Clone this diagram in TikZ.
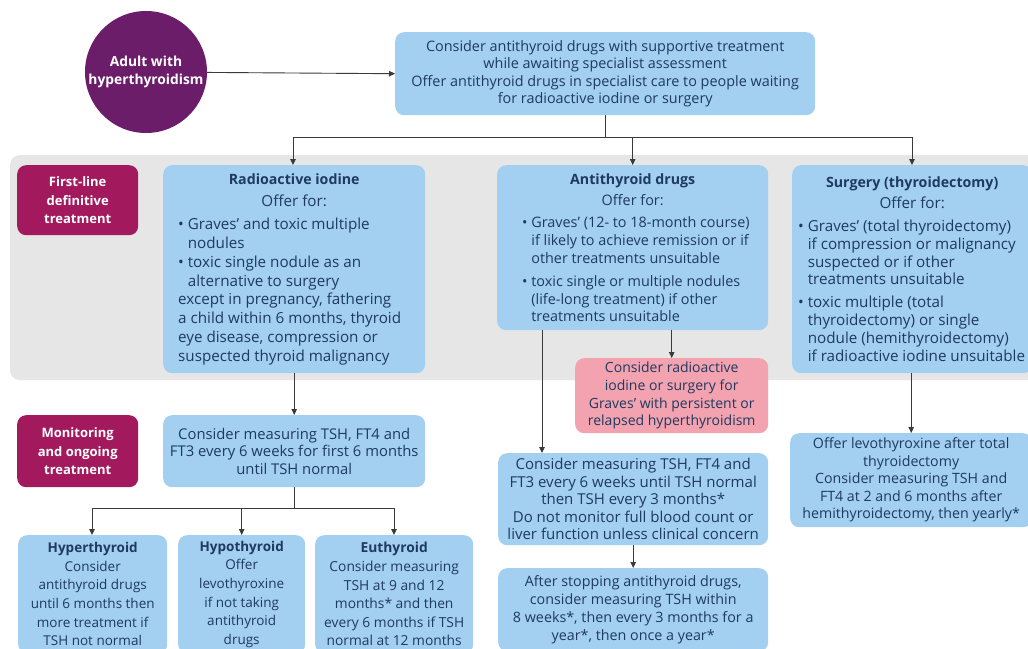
\documentclass[tikz,border=0pt]{standalone}
\usepackage{fontspec}
\setmainfont{Open Sans}
\usetikzlibrary{arrows.meta}
\definecolor{navy}{HTML}{1E3A5F}
\definecolor{purp}{HTML}{6C1D6A}
\definecolor{mag}{HTML}{A3195D}
\definecolor{sky}{HTML}{A3D0F0}
\definecolor{band}{HTML}{E6E6E6}
\definecolor{pinkb}{HTML}{F3A2B0}
\definecolor{arr}{HTML}{3A3A3A}
\newcommand\ind{\phantom{\textbullet\ }}
\newcommand\lw{200pt}
\newcommand\li[1]{\makebox[\lw][l]{#1}}
\newcommand\ttl[1]{{\fontsize{14.2}{17}\selectfont\bfseries #1}}
\tikzset{
 box/.style={fill=sky, rounded corners=9pt, anchor=north west, inner sep=0pt, text=navy,
   font=\fontsize{14.3}{18.5}\selectfont, align=center},
 lab/.style={fill=mag, rounded corners=9pt, anchor=north west, inner sep=0pt, text=white,
   font=\bfseries\fontsize{13}{18.5}\selectfont, align=center, minimum width=121pt},
 arrow/.style={draw=arr, line width=0.9pt, -{Triangle[length=6pt,width=5.5pt]}},
 conn/.style={draw=arr, line width=0.9pt},
}
\begin{document}
\begin{tikzpicture}[x=1pt,y=-1pt]
\clip (0,0) rectangle (1028,648);
\fill[white] (0,0) rectangle (1028,648);
% grey band
\fill[band, rounded corners=10pt] (10,155) rectangle (1045,380);
% start
\node[circle, fill=purp, minimum size=122pt, inner sep=0pt, text=white,
  font=\bfseries\fontsize{13.8}{18}\selectfont, align=center] (start) at (146,72)
  {Adult with\\hyperthyroidism};
\node[box, minimum width=420pt, minimum height=83pt, font=\fontsize{14.4}{17.3}\selectfont] (top) at (395,32)
  {Consider antithyroid drugs with supportive treatment\\
   while awaiting specialist assessment\\
   Offer antithyroid drugs in specialist care to people waiting\\
   for radioactive iodine or surgery};
% labels
\node[lab, minimum height=70pt] (lab1) at (17,165) {First-line\\definitive\\treatment};
\node[lab, minimum height=72pt] (lab2) at (17,415) {Monitoring\\and ongoing\\treatment};
% first line boxes
\node[box, minimum width=262pt, minimum height=208pt, font=\fontsize{15.2}{18.8}\selectfont] (ri) at (163,165)
  {\gdef\lw{232pt}\ttl{Radioactive iodine}\\[4pt]
   Offer for:\\[4pt]
   \li{\textbullet\ Graves' and toxic multiple}\\
   \li{\ind nodules}\\
   \li{\textbullet\ toxic single nodule as an}\\
   \li{\ind alternative to surgery}\\
   \li{except in pregnancy, fathering}\\
   \li{a child within 6 months, thyroid}\\
   \li{eye disease, compression or}\\
   \li{suspected thyroid malignancy}};
\node[box, minimum width=271pt, minimum height=165pt, font=\fontsize{14.4}{17.8}\selectfont] (ad) at (497,165)
  {\gdef\lw{221pt}\ttl{Antithyroid drugs}\\[3pt]
   Offer for:\\[5pt]
   \li{\textbullet\ Graves' (12- to 18-month course)}\\
   \li{\ind if likely to achieve remission or if}\\
   \li{\ind other treatments unsuitable}\\[5pt]
   \li{\textbullet\ toxic single or multiple nodules}\\
   \li{\ind (life-long treatment) if other}\\
   \li{\ind treatments unsuitable}};
\node[box, minimum width=240pt, minimum height=208pt, font=\fontsize{15.2}{17.8}\selectfont] (sg) at (792,165)
  {\gdef\lw{228pt}\ttl{Surgery (thyroidectomy)}\\[3pt]
   Offer for:\\[5pt]
   \li{\textbullet\ Graves' (total thyroidectomy)}\\
   \li{\ind if compression or malignancy}\\
   \li{\ind suspected or if other}\\
   \li{\ind treatments unsuitable}\\[5pt]
   \li{\textbullet\ toxic multiple (total}\\
   \li{\ind thyroidectomy) or single}\\
   \li{\ind nodule (hemithyroidectomy)}\\
   \li{\ind if radioactive iodine unsuitable}};
\node[box, fill=pinkb, minimum width=193pt, minimum height=75pt, font=\fontsize{14}{17.7}\selectfont] (pk) at (575,358)
  {Consider radioactive\\iodine or surgery for\\Graves' with persistent or\\relapsed hyperthyroidism};
% monitoring
\node[box, minimum width=262pt, minimum height=72pt, font=\fontsize{14.8}{17.5}\selectfont] (m1) at (163,415)
  {Consider measuring TSH, FT4 and\\FT3 every 6 weeks for first 6 months\\until TSH normal};
\node[box, minimum width=149pt, minimum height=118pt, font=\fontsize{13.5}{18.6}\selectfont] (hyper) at (18,535)
  {\textbf{Hyperthyroid}\\Consider\\antithyroid drugs\\until 6 months then\\more treatment if\\TSH not normal};
\node[box, minimum width=127pt, minimum height=118pt, font=\fontsize{13.5}{18.6}\selectfont] (hypo) at (178,535)
  {\textbf{Hypothyroid}\\Offer\\levothyroxine\\if not taking\\antithyroid\\drugs};
\node[box, minimum width=158pt, minimum height=118pt, font=\fontsize{13.8}{18.6}\selectfont] (eu) at (315,535)
  {\textbf{Euthyroid}\\Consider measuring\\TSH at 9 and 12\\months* and then\\every 6 months if TSH\\normal at 12 months};
\node[box, minimum width=270pt, minimum height=92pt, font=\fontsize{15}{17.5}\selectfont] (m2) at (498,453)
  {Consider measuring TSH, FT4 and\\FT3 every 6 weeks until TSH normal\\then TSH every 3 months*\\
   Do not monitor full blood count or\\liver function unless clinical concern};
\node[box, minimum width=270pt, minimum height=83pt, font=\fontsize{14.3}{17.7}\selectfont] (after) at (498,568)
  {After stopping antithyroid drugs,\\consider measuring TSH within\\8 weeks*, then every 3 months for a\\year*, then once a year*};
\node[box, minimum width=242pt, minimum height=94pt, font=\fontsize{14.2}{17.5}\selectfont] (levo) at (790,433)
  {Offer levothyroxine after total\\thyroidectomy\\Consider measuring TSH and\\FT4 at 2 and 6 months after\\hemithyroidectomy, then yearly*};
% connectors
\coordinate (hl) at (293,137);
\coordinate (hr) at (912,137);
\coordinate (bl) at (92,508);
\coordinate (br) at (394,508);
\draw[arrow] (start) -- (top.west);
\draw[conn] (top.south) -- (top.south |- hl);
\draw[conn] (hl) -- (hr);
\draw[arrow] (hl) -- (hl |- ri.north);
\draw[arrow] (ad.north |- hl) -- (ad.north);
\draw[arrow] (hr) -- (hr |- sg.north);
\draw[arrow] (ri.south) -- (m1.north);
\draw[conn] (m1.south) -- (m1.south |- bl);
\draw[conn] (bl) -- (br);
\draw[arrow] (bl) -- (bl |- hyper.north);
\draw[arrow] (hypo.north |- bl) -- (hypo.north);
\draw[arrow] (br) -- (br |- eu.north);
\draw[arrow] ([xshift=45pt]ad.south west) -- ([xshift=44pt]m2.north west);
\draw[arrow] (pk.north |- ad.south) -- (pk.north);
\draw[arrow] (m2.south) -- (after.north);
\draw[arrow] (sg.south -| levo.north) -- (levo.north);
\end{tikzpicture}
\end{document}
